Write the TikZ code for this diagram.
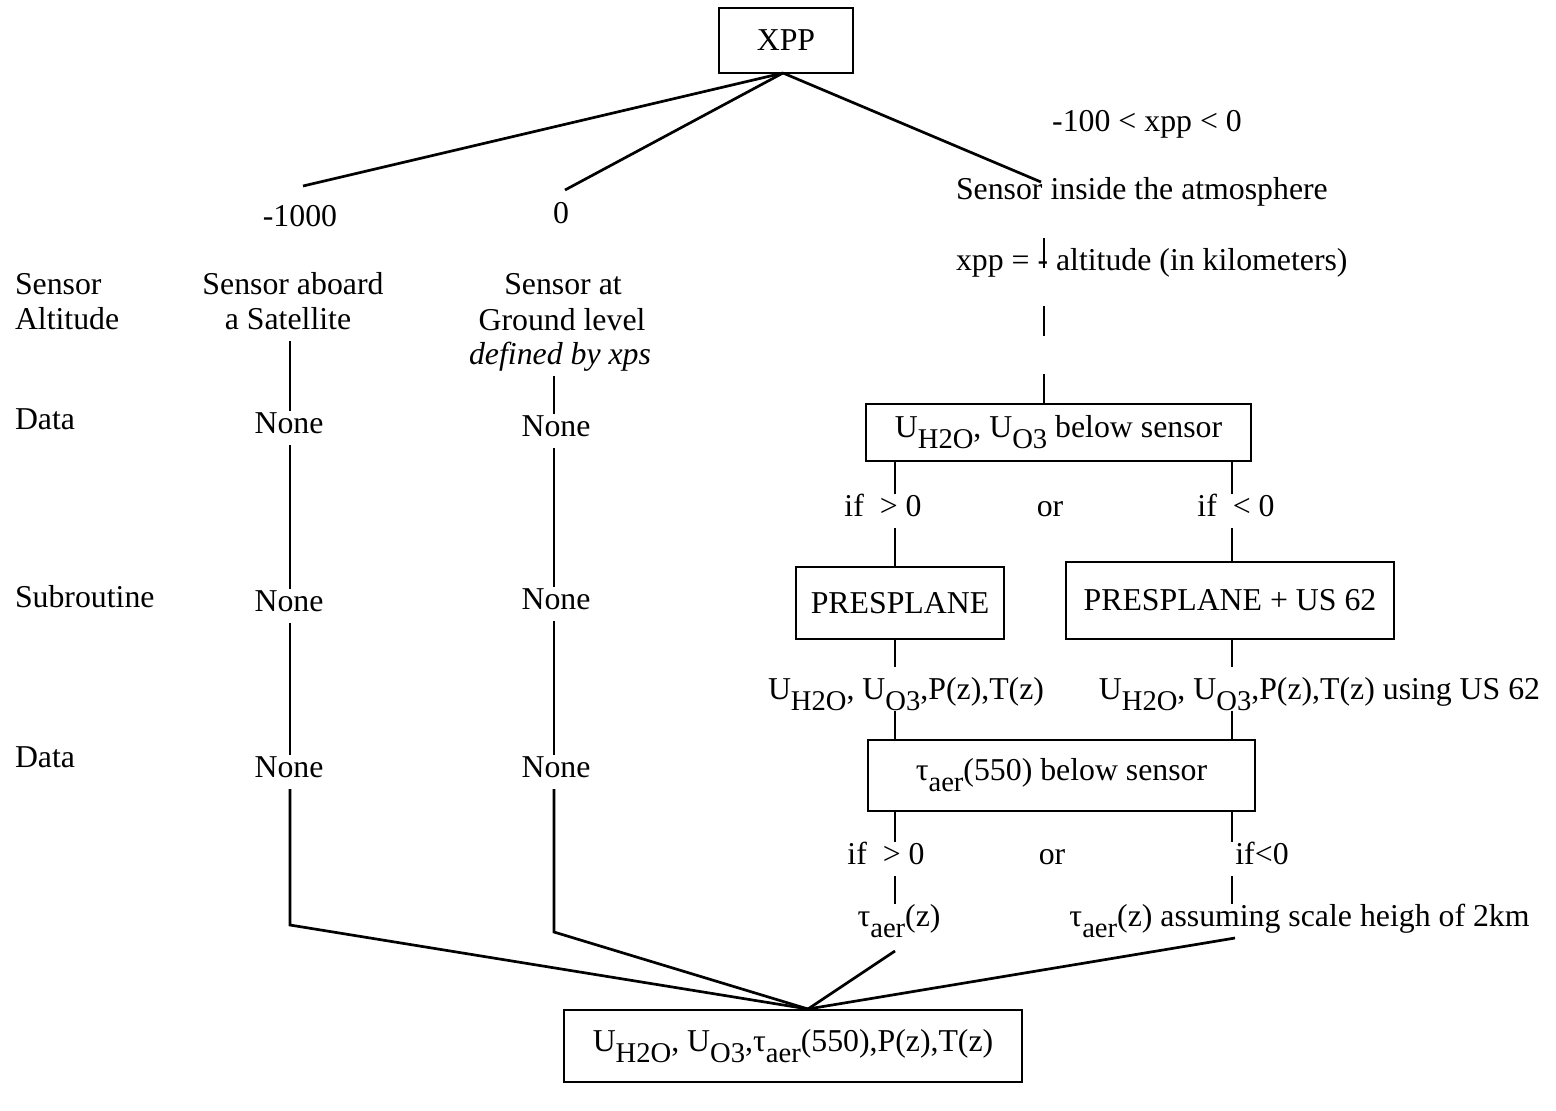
\documentclass[tikz,border=0pt]{standalone}
\usepackage{fontspec}
\setmainfont{Liberation Serif}
\usetikzlibrary{calc}
\newcommand\lsb[1]{\raisebox{-5.5pt}{\fontsize{14.3pt}{14.3pt}\selectfont #1}}
\begin{document}
\begin{tikzpicture}[x=0.5pt,y=-0.5pt,
  font=\fontsize{15.9pt}{17.5pt}\selectfont,
  lbl/.style={inner sep=0pt, outer sep=0pt, text height=11pt, text depth=6pt, anchor=base},
  box/.style={draw, line width=1pt, inner sep=0pt, outer sep=0pt},
  conn/.style={line width=1.35pt}]
\useasboundingbox (0,0) rectangle (1556,1110);
% column coordinates
\coordinate (cL) at (290,0);
\coordinate (cM) at (554,0);
\coordinate (cR) at (1044,0);
\coordinate (cA) at (895,0);
\coordinate (cB) at (1232,0);
\coordinate (cC) at (1235,0);
% top
\node[box, minimum width=67pt, minimum height=32.5pt] (xpp) at (786,40.5) {XPP};
\node[lbl] (m1000) at (300,226) {-1000};
\node[lbl] (zero) at (561,223) {0};
\node[lbl] (rng) at (1147,131) {-100 < xpp < 0};
\node[lbl, anchor=base west] (inside) at (956,199) {Sensor inside the atmosphere};
\node[lbl, anchor=base west] (alt) at (956,270) {xpp = - altitude (in kilometers)};
\coordinate (e1) at (303,186);
\coordinate (e0) at (565,190);
\coordinate (eR) at (1041,182);
% row labels
\node[lbl, anchor=base west] (rSA1) at (15,294) {Sensor};
\node[lbl, anchor=base west] (rSA2) at (15,329) {Altitude};
\node[lbl, anchor=base west] (rD1) at (15,429) {Data};
\node[lbl, anchor=base west] (rSub) at (15,607) {Subroutine};
\node[lbl, anchor=base west] (rD2) at (15,767) {Data};
% left columns
\node[lbl] (sat1) at (293,294) {Sensor aboard};
\node[lbl] (sat2) at (288,329) {a Satellite};
\node[lbl] (gnd1) at (563,294) {Sensor at};
\node[lbl] (gnd2) at (562,330) {Ground level};
\node[lbl] (gnd3) at (560,364) {\textit{defined by xps}};
\node[lbl] (nL1) at (289,433) {None};
\node[lbl] (nM1) at (556,436) {None};
\node[lbl] (nL2) at (289,611) {None};
\node[lbl] (nM2) at (556,609) {None};
\node[lbl] (nL3) at (289,777) {None};
\node[lbl] (nM3) at (556,777) {None};
% right branch
\node[box, minimum width=192.5pt, minimum height=28.5pt] (b1) at (1058.5,432.5) {U\lsb{H2O}, U\lsb{O3} below sensor};
\node[lbl] (if1a) at (883,516) {if~~> 0};
\node[lbl] (or1) at (1050,516) {or};
\node[lbl] (if1b) at (1236,516) {if~~< 0};
\node[box, minimum width=104pt, minimum height=36pt] (pres) at (900,603) {PRESPLANE};
\node[box, minimum width=164pt, minimum height=38.5pt] (presus) at (1230,600.5) {PRESPLANE + US 62};
\node[lbl] (dA) at (906,699) {U\lsb{H2O}, U\lsb{O3},P(z),T(z)};
\node[lbl] (dB) at (1319.5,699) {U\lsb{H2O}, U\lsb{O3},P(z),T(z) using US 62};
\node[box, minimum width=193.5pt, minimum height=35.5pt] (tau) at (1061.5,775.5) {τ\lsb{aer}(550) below sensor};
\node[lbl] (if2a) at (886,864) {if~~> 0};
\node[lbl] (or2) at (1052,864) {or};
\node[lbl] (if2b) at (1262,864) {if<0};
\node[lbl] (tz) at (899,926) {τ\lsb{aer}(z)};
\node[lbl] (tz2) at (1299.5,926) {τ\lsb{aer}(z) assuming scale heigh of 2km};
% bottom
\node[box, minimum width=229pt, minimum height=36pt] (bot) at (793,1046) {U\lsb{H2O}, U\lsb{O3},τ\lsb{aer}(550),P(z),T(z)};
\coordinate (jB) at (808,1009);
\coordinate (jL) at (290,925);
\coordinate (jM) at (554,932);
\coordinate (dTop) at (1044,238);
% connectors top
\draw[conn] ([xshift=-1.5pt]xpp.south) -- (e1);
\draw[conn] ([xshift=-1.5pt]xpp.south) -- (e0);
\draw[conn] ([xshift=-1.5pt]xpp.south) -- (eR);
% left column
\draw[conn] (sat2.south -| cL) -- (nL1.north -| cL);
\draw[conn] (nL1.south -| cL) -- (nL2.north -| cL);
\draw[conn] (nL2.south -| cL) -- (nL3.north -| cL);
\draw[conn] (nL3.south -| cL) -- (jL) -- (jB);
% middle column
\draw[conn] (gnd3.south -| cM) -- (nM1.north -| cM);
\draw[conn] (nM1.south -| cM) -- (nM2.north -| cM);
\draw[conn] (nM2.south -| cM) -- (nM3.north -| cM);
\draw[conn] (nM3.south -| cM) -- (jM) -- (jB);
% right column
\draw[conn, dash pattern=on 15pt off 19pt] (b1.north -| cR) -- (dTop);
\draw[conn] (b1.south -| cA) -- (if1a.north -| cA);
\draw[conn] (if1a.south -| cA) -- (pres.north -| cA);
\draw[conn] (b1.south -| cB) -- (if1b.north -| cB);
\draw[conn] (if1b.south -| cB) -- (presus.north -| cB);
\draw[conn] (pres.south -| cA) -- ([yshift=5pt]dA.north -| cA);
\draw[conn] (presus.south -| cB) -- ([yshift=5pt]dB.north -| cB);
\draw[conn] (dA.south -| cA) -- (tau.north -| cA);
\draw[conn] (dB.south -| cB) -- (tau.north -| cB);
\draw[conn] (tau.south -| cA) -- (if2a.north -| cA);
\draw[conn] (if2a.south -| cA) -- (tz.north -| cA);
\draw[conn] (tau.south -| cB) -- (if2b.north -| cB);
\draw[conn] (if2b.south -| cB) -- (tz2.north -| cB);
\draw[conn] ([yshift=-6.5pt]tz.south -| cA) -- (jB);
\draw[conn] (tz2.south -| cC) -- (jB);
\end{tikzpicture}
\end{document}
